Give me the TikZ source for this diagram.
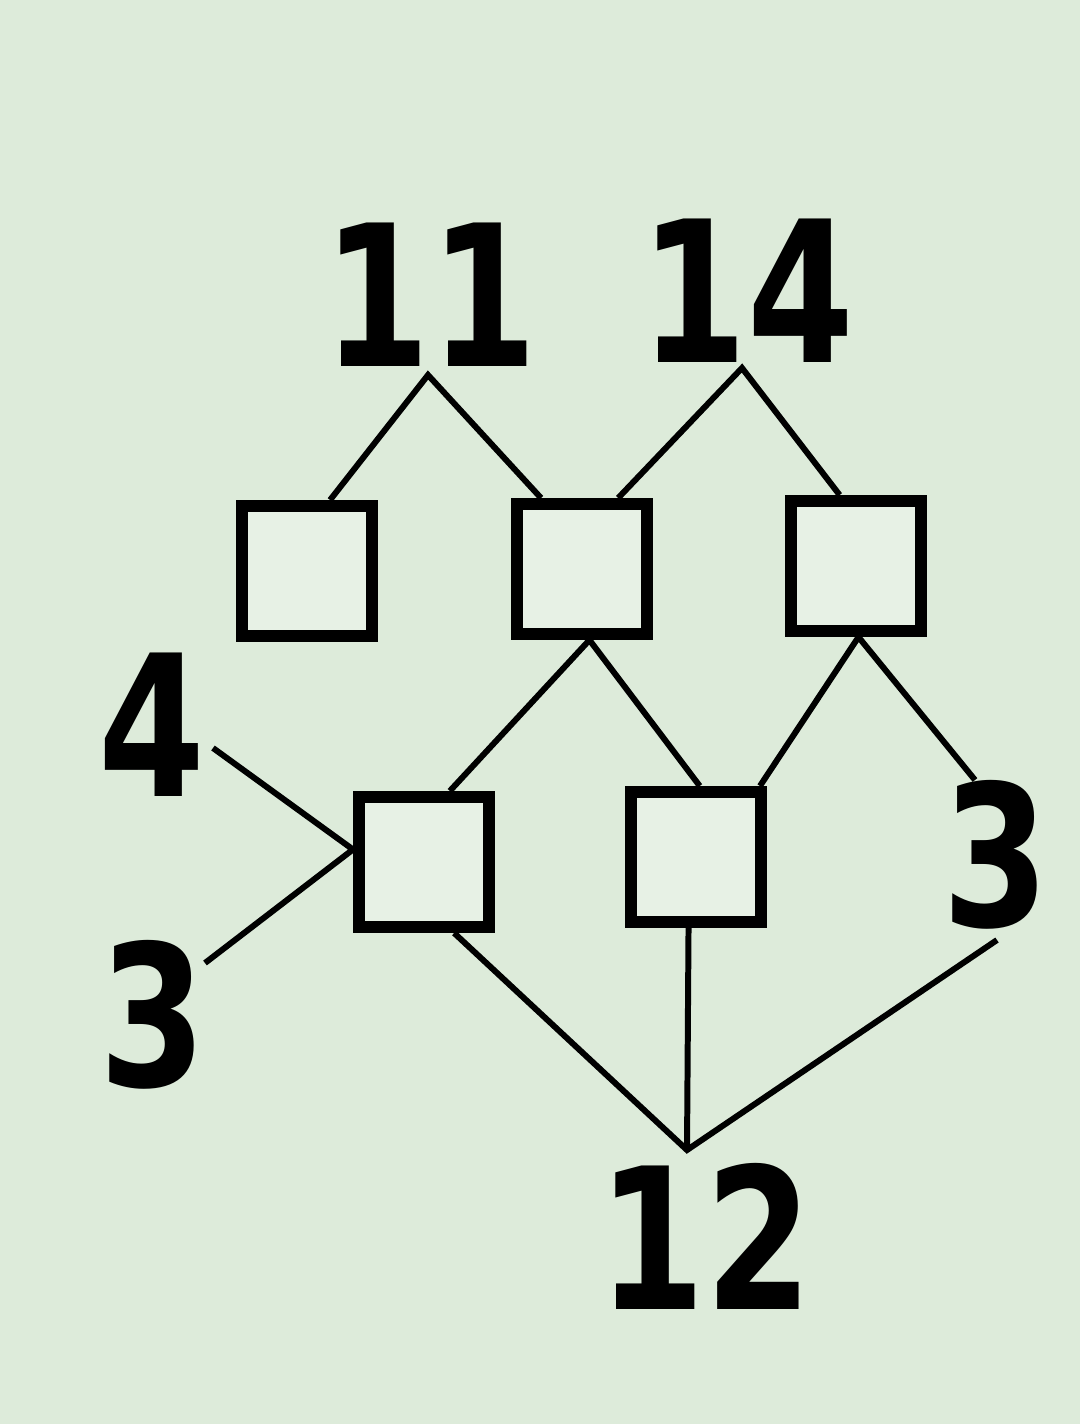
\documentclass[tikz,border=0pt]{standalone}
\usepackage{fontspec}
\usepackage{tikz}
\newfontfamily\numfont{DejaVu Sans}
\newcommand*{\narrow}[1]{\scalebox{0.78}[1]{#1}}
\definecolor{paper}{RGB}{221,235,218}
\tikzstyle{number} = [font=\numfont\bfseries\fontsize{56}{60}\selectfont, inner sep=0pt]
\tikzstyle{box} = [draw, line width=3.4pt, minimum size=1.3cm, fill=paper!70!white]
\tikzstyle{link} = [line width=1.7pt]

\begin{document}
\begin{tikzpicture}[x=0.01cm, y=-0.01cm]
    \fill [paper] (0,0) rectangle (1080,1424);
    \useasboundingbox (0,0) rectangle (1080,1424);

    \node (top 11) [number] at (430,295) {\narrow{11}};
    \node (top 14) [number] at (747,291) {\narrow{14}};
    \node (left 4) [number] at (152,725) {\narrow{4}};
    \node (left 3) [number] at (153,1015) {\narrow{3}};
    \node (right 3) [number] at (996,855) {\narrow{3}};
    \node (bottom 12) [number] at (705,1236) {\narrow{12}};

    \coordinate (apex 11) at (428,375);
    \coordinate (apex 14) at (742,368);
    \coordinate (apex 12) at (687,1150);
    \coordinate (end 4) at (213,748);
    \coordinate (end 3l) at (205,963);
    \coordinate (end 3r top) at (975,780);
    \coordinate (end 3r bottom) at (997,940);

    \foreach \i/\u/\v in {1/307/571, 2/582/569, 3/856/566, 4/424/862, 5/696/857} {%
        \node (box \i) [box] at (\u,\v) {};
    }

    % Lines.
    \draw [link] (box 1.72) -- (apex 11) -- (box 2.120);
    \draw [link] (box 2.63) -- (apex 14) -- (box 3.103);
    \draw [link] (box 4.70) -- (box 2.-84) -- (box 5.87);
    \draw [link] (box 5.48) -- (box 3.-88) -- (end 3r top);
    \draw [link] (end 4) -- (box 4.170) -- (end 3l);
    \draw [link] (box 4.-67) -- (apex 12) -- (end 3r bottom);
    \draw [link] (box 5.-96) -- (apex 12);
\end{tikzpicture}
\end{document}
